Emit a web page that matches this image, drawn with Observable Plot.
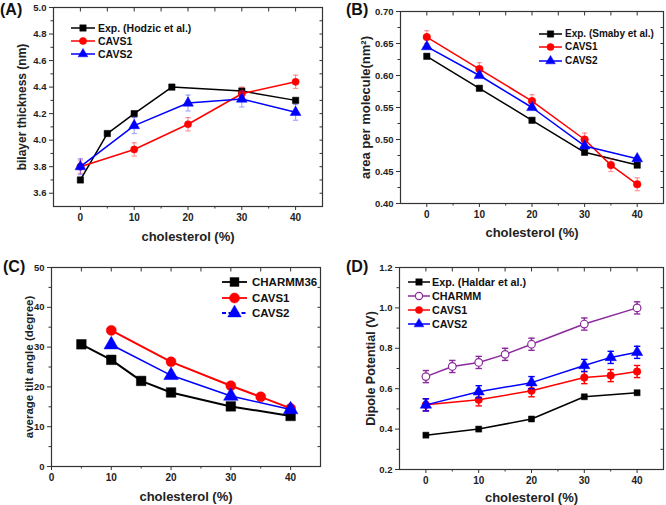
<!DOCTYPE html>
<html><head><meta charset="utf-8">
<script src="https://cdn.jsdelivr.net/npm/d3@7"></script>
<script src="https://cdn.jsdelivr.net/npm/@observablehq/plot@0.6"></script>
<style>
body{margin:0;background:#fff;font-family:"Liberation Sans",Arial,sans-serif;}
#wrap{position:relative;width:666px;height:505px;overflow:hidden;background:#fff}
.panel{position:absolute}
.panel svg{overflow:visible}
.plabel{position:absolute;font-weight:bold;font-size:16px;line-height:1;color:#111}
.legend{position:absolute;font-weight:bold;color:#111}
.legend .row{position:absolute;left:0;white-space:nowrap;display:flex;align-items:center}
.legend svg{display:block}
</style>
</head><body>
<div id="wrap"></div>
<script>
// ---------- DATA ----------
// Panel A: bilayer thickness (nm)
const aExpX = [0, 5, 10, 17, 30, 40];
const aExpY = [3.70, 4.05, 4.20, 4.40, 4.37, 4.30];
const aC1X = [0, 10, 20, 30, 40];
const aC1Y = [3.80, 3.93, 4.12, 4.35, 4.44];
const aC1E = [0.05, 0.05, 0.05, 0.05, 0.05];
const aC2X = [0, 10, 20, 30, 40];
const aC2Y = [3.80, 4.11, 4.28, 4.31, 4.21];
const aC2E = [0.06, 0.06, 0.06, 0.06, 0.06];

// Panel B: area per molecule (nm^2)
const bExpX = [0, 10, 20, 30, 40];
const bExpY = [0.63, 0.58, 0.53, 0.48, 0.46];
const bC1X = [0, 10, 20, 30, 35, 40];
const bC1Y = [0.66, 0.61, 0.56, 0.50, 0.46, 0.43];
const bC1E = [0.01, 0.01, 0.01, 0.01, 0.01, 0.01];
const bC2X = [0, 10, 20, 30, 40];
const bC2Y = [0.645, 0.60, 0.55, 0.49, 0.47];

// Panel C: average tilt angle (degree)
const cChX = [5, 10, 15, 20, 30, 40];
const cChY = [30.7, 26.8, 21.5, 18.6, 15.1, 12.7];
const cC1X = [10, 20, 30, 35, 40];
const cC1Y = [34.2, 26.3, 20.3, 17.5, 14.6];
const cC2X = [10, 20, 30, 40];
const cC2Y = [30.6, 22.9, 17.7, 14.3];

// Panel D: dipole potential (V)
const dExpX = [0, 10, 20, 30, 40];
const dExpY = [0.37, 0.40, 0.45, 0.56, 0.58];
const dChX = [0, 5, 10, 15, 20, 30, 40];
const dChY = [0.66, 0.71, 0.73, 0.77, 0.82, 0.92, 1.00];
const dChE = [0.03, 0.03, 0.03, 0.03, 0.03, 0.03, 0.03];
const dC1X = [0, 10, 20, 30, 35, 40];
const dC1Y = [0.52, 0.545, 0.59, 0.655, 0.665, 0.685];
const dC1E = [0.03, 0.03, 0.03, 0.03, 0.03, 0.03];
const dC2X = [0, 10, 20, 30, 35, 40];
const dC2Y = [0.52, 0.585, 0.63, 0.715, 0.755, 0.78];
const dC2E = [0.03, 0.03, 0.03, 0.03, 0.03, 0.03];

// Tick values
const xMajor = [0, 10, 20, 30, 40];
const xMinor = [5, 15, 25, 35];
const aYMajor = [3.6, 3.8, 4.0, 4.2, 4.4, 4.6, 4.8, 5.0];
const aYMinor = [3.7, 3.9, 4.1, 4.3, 4.5, 4.7, 4.9];
const bYMajor = [0.40, 0.45, 0.50, 0.55, 0.60, 0.65, 0.70];
const bYMinor = [0.425, 0.475, 0.525, 0.575, 0.625, 0.675];
const cYMajor = [0, 10, 20, 30, 40, 50];
const cYMinor = [5, 15, 25, 35, 45];
const dYMajor = [0.2, 0.4, 0.6, 0.8, 1.0, 1.2];
const dYMinor = [0.3, 0.5, 0.7, 0.9, 1.1];

// Labels
const labelA = ["Exp. (Hodzic et al.)", "CAVS1", "CAVS2"];
const labelB = ["Exp. (Smaby et al.)", "CAVS1", "CAVS2"];
const labelC = ["CHARMM36", "CAVS1", "CAVS2"];
const labelD = ["Exp. (Haldar et al.)", "CHARMM", "CAVS1", "CAVS2"];
const xTitle = "cholesterol (%)";

// ---------- STYLE ----------
const BLACK = "#000", RED = "#ff0000", BLUE = "#0000ff", PURPLE = "#8b2a9c";
const AXIS = "#333";

const zip = (xs, ys, es) => xs.map((x, i) => ({x, y: ys[i], e: es ? es[i] : 0}));
const cap = {draw(ctx, size) { const w = Math.sqrt(size); ctx.moveTo(-w / 2, 0); ctx.lineTo(w / 2, 0); }};

function panel(cfg) {
  const marks = [];
  const tf = cfg.fmt ? d3.format(cfg.fmt) : d3.format("d");
  const txt = {fontWeight: "bold", fontSize: 10, fill: "#222"};
  const none = () => "";
  // axes: bottom/left outward, top/right inward
  marks.push(Plot.axisX(xMajor, {tickSize: 4, tickPadding: 3, tickFormat: d3.format("d"), stroke: AXIS, label: null, ...txt}));
  marks.push(Plot.axisX(xMinor, {tickSize: 2.5, tickFormat: none, stroke: AXIS, label: null}));
  marks.push(Plot.axisX(xMajor.concat(xMinor), {anchor: "top", tickSize: -3.5, tickFormat: none, stroke: AXIS, label: null}));
  marks.push(Plot.axisY(cfg.yMajor, {tickSize: 4, tickPadding: 3, tickFormat: tf, stroke: AXIS, label: null, ...txt, fontSize: 9.5}));
  marks.push(Plot.axisY(cfg.yMinor, {tickSize: 2.5, tickFormat: none, stroke: AXIS, label: null}));
  marks.push(Plot.axisY(cfg.yMajor.concat(cfg.yMinor), {anchor: "right", tickSize: -3.5, tickFormat: none, stroke: AXIS, label: null}));
  marks.push(Plot.frame({stroke: AXIS, strokeWidth: 1.2}));
  for (const s of cfg.series) {
    const data = zip(s.x, s.y, s.e);
    marks.push(Plot.line(data, {x: "x", y: "y", stroke: s.color, strokeWidth: s.lw || 1.5}));
    if (s.e) {
      const eo = s.errOpacity ?? 1;
      marks.push(Plot.ruleX(data, {x: "x", y1: d => d.y - d.e, y2: d => d.y + d.e, stroke: s.color, strokeOpacity: eo, strokeWidth: s.ew || 1.2}));
      marks.push(Plot.dot(data, {x: "x", y: d => d.y + d.e, symbol: cap, r: s.capR || 3, stroke: s.color, strokeOpacity: eo, strokeWidth: s.ew || 1.2}));
      marks.push(Plot.dot(data, {x: "x", y: d => d.y - d.e, symbol: cap, r: s.capR || 3, stroke: s.color, strokeOpacity: eo, strokeWidth: s.ew || 1.2}));
    }
    marks.push(Plot.dot(data, {x: "x", y: "y", symbol: s.symbol, r: s.r, fill: s.fill || s.color, stroke: s.color, strokeWidth: s.fill ? 1.2 : 0.5}));
  }
  marks.push(Plot.text([xTitle], {text: d => d, frameAnchor: "bottom", textAnchor: "middle", lineAnchor: "middle", dy: cfg.xTitleDy, fontWeight: "bold", fontSize: 13, fill: "#222"}));
  marks.push(Plot.text([cfg.yTitle], {text: d => d, frameAnchor: "left", textAnchor: "middle", lineAnchor: "middle", rotate: -90, dx: cfg.yTitleDx, fontWeight: "bold", fontSize: cfg.yTitleSize, fill: "#222"}));
  const svg = Plot.plot({
    width: cfg.width, height: cfg.height,
    marginTop: cfg.m[0], marginRight: cfg.m[1], marginBottom: cfg.m[2], marginLeft: cfg.m[3],
    x: {domain: cfg.xDomain, axis: null},
    y: {domain: cfg.yDomain, axis: null},
    style: {fontFamily: "'Liberation Sans', Arial, sans-serif", background: "transparent", overflow: "visible"},
    marks
  });
  const div = document.createElement("div");
  div.className = "panel";
  div.style.left = cfg.left + "px"; div.style.top = cfg.top + "px";
  div.appendChild(svg);
  document.getElementById("wrap").appendChild(div);
}

function symPath(sym, r) {
  return d3.symbol().type(sym).size(Math.PI * r * r)();
}

function legend(cfg) {
  const box = document.createElement("div");
  box.className = "legend";
  box.style.left = cfg.left + "px"; box.style.top = cfg.top + "px";
  box.style.fontSize = cfg.fontSize + "px";
  cfg.items.forEach((it, i) => {
    const row = document.createElement("div");
    row.className = "row";
    row.style.top = (i * cfg.rowH - 6) + "px";
    row.style.height = "12px";
    const w = cfg.lineW, h = 12;
    const dash = it.dash ? `stroke-dasharray="4,2.5"` : "";
    row.innerHTML = `<svg width="${w}" height="${h}" viewBox="0 0 ${w} ${h}" style="overflow:visible">
      <line x1="0" x2="${w}" y1="${h/2}" y2="${h/2}" stroke="${it.color}" stroke-width="${cfg.lw || 1.5}" ${dash}/>
      <path transform="translate(${w/2},${h/2})" d="${symPath(it.symbol, cfg.r)}" fill="${it.fill || it.color}" stroke="${it.color}" stroke-width="${it.fill ? 1.2 : 0.5}"/>
    </svg><span style="margin-left:${cfg.gap}px;line-height:12px">${it.label}</span>`;
    box.appendChild(row);
  });
  document.getElementById("wrap").appendChild(box);
}

function plabel(t, left, top) {
  const d = document.createElement("div");
  d.className = "plabel"; d.textContent = t;
  d.style.left = left + "px"; d.style.top = top + "px";
  document.getElementById("wrap").appendChild(d);
}

// ---------- PANELS ----------
panel({
  left: 0, top: 0, width: 333, height: 250, m: [7, 11, 44, 53],
  xDomain: [-5, 45], yDomain: [3.5, 5.0], yMajor: aYMajor, yMinor: aYMinor, fmt: ".1f",
  yTitle: "bilayer thickness (nm)", yTitleDx: -31, yTitleSize: 12, xTitleDy: 30,
  series: [
    {x: aExpX, y: aExpY, color: BLACK, symbol: d3.symbolSquare, r: 3.6},
    {x: aC1X, y: aC1Y, e: aC1E, color: RED, symbol: d3.symbolCircle, r: 3.6, errOpacity: 0.4},
    {x: aC2X, y: aC2Y, e: aC2E, color: BLUE, symbol: d3.symbolTriangle, r: 4, errOpacity: 0.35}
  ]
});
panel({
  left: 333, top: 0, width: 333, height: 250, m: [11, 3, 47, 67],
  xDomain: [-5, 45], yDomain: [0.40, 0.70], yMajor: bYMajor, yMinor: bYMinor, fmt: ".2f",
  yTitle: "area per molecule(nm²)", yTitleDx: -35, yTitleSize: 13, xTitleDy: 29,
  series: [
    {x: bExpX, y: bExpY, color: BLACK, symbol: d3.symbolSquare, r: 3.6},
    {x: bC1X, y: bC1Y, e: bC1E, color: RED, symbol: d3.symbolCircle, r: 3.8, errOpacity: 0.4},
    {x: bC2X, y: bC2Y, color: BLUE, symbol: d3.symbolTriangle, r: 4}
  ]
});
panel({
  left: 0, top: 250, width: 333, height: 255, m: [17, 13, 39, 51],
  xDomain: [0, 45], yDomain: [0, 50], yMajor: cYMajor, yMinor: cYMinor, fmt: "d",
  yTitle: "average tilt angle (degree)", yTitleDx: -22, yTitleSize: 11.5, xTitleDy: 30,
  series: [
    {x: cChX, y: cChY, color: BLACK, symbol: d3.symbolSquare, r: 5.4, lw: 2},
    {x: cC1X, y: cC1Y, color: RED, symbol: d3.symbolCircle, r: 5, lw: 2},
    {x: cC2X, y: cC2Y, color: BLUE, symbol: d3.symbolTriangle, r: 5.4, lw: 1.6}
  ]
});
panel({
  left: 333, top: 250, width: 333, height: 255, m: [17, 3, 36, 66],
  xDomain: [-5, 45], yDomain: [0.2, 1.2], yMajor: dYMajor, yMinor: dYMinor, fmt: ".1f",
  yTitle: "Dipole Potential (V)", yTitleDx: -29, yTitleSize: 12.5, xTitleDy: 28,
  series: [
    {x: dExpX, y: dExpY, color: BLACK, symbol: d3.symbolSquare, r: 3.4},
    {x: dChX, y: dChY, e: dChE, color: PURPLE, symbol: d3.symbolCircle, r: 3.8, fill: "#fff", capR: 3.6, ew: 1.4},
    {x: dC1X, y: dC1Y, e: dC1E, color: RED, symbol: d3.symbolCircle, r: 3.8, capR: 3.6, ew: 1.4},
    {x: dC2X, y: dC2Y, e: dC2E, color: BLUE, symbol: d3.symbolTriangle, r: 4.2, capR: 3.6, ew: 1.4}
  ]
});

// ---------- LEGENDS ----------
legend({left: 71, top: 28, rowH: 13.2, lineW: 24, gap: 3, fontSize: 10.5, r: 3.6, items: [
  {label: labelA[0], color: BLACK, symbol: d3.symbolSquare},
  {label: labelA[1], color: RED, symbol: d3.symbolCircle},
  {label: labelA[2], color: BLUE, symbol: d3.symbolTriangle}
]});
legend({left: 539, top: 33.5, rowH: 13.8, lineW: 23, gap: 3, fontSize: 10, r: 3.6, items: [
  {label: labelB[0], color: BLACK, symbol: d3.symbolSquare},
  {label: labelB[1], color: RED, symbol: d3.symbolCircle},
  {label: labelB[2], color: BLUE, symbol: d3.symbolTriangle}
]});
legend({left: 222, top: 282, rowH: 15.5, lineW: 25, gap: 5, fontSize: 11.5, r: 5, lw: 1.8, items: [
  {label: labelC[0], color: BLACK, symbol: d3.symbolSquare},
  {label: labelC[1], color: RED, symbol: d3.symbolCircle},
  {label: labelC[2], color: BLUE, symbol: d3.symbolTriangle, dash: true}
]});
legend({left: 408, top: 282.3, rowH: 13.9, lineW: 22, gap: 2, fontSize: 10.8, r: 3.6, items: [
  {label: labelD[0], color: BLACK, symbol: d3.symbolSquare},
  {label: labelD[1], color: PURPLE, symbol: d3.symbolCircle, fill: "#fff"},
  {label: labelD[2], color: RED, symbol: d3.symbolCircle},
  {label: labelD[3], color: BLUE, symbol: d3.symbolTriangle}
]});

plabel("(A)", 0, 2);
plabel("(B)", 346, 2);
plabel("(C)", 3, 259);
plabel("(D)", 346, 259);
</script>
</body></html>
